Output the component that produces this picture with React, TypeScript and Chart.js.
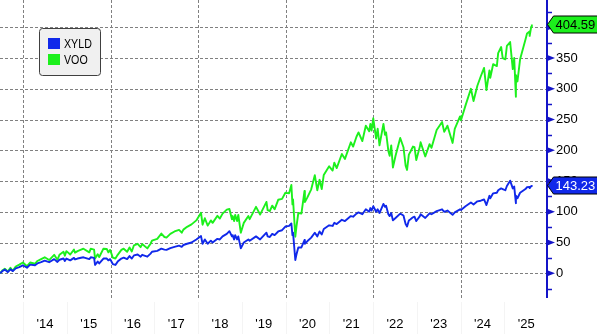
import React, { useEffect, useRef } from 'react';
import { Chart, registerables } from 'chart.js';

Chart.register(...registerables);

// ---- data (cumulative total return, %) ----
const DATES = [
  '2013-06-24','2013-07-15','2013-08-02','2013-08-27','2013-09-18','2013-10-08','2013-11-01','2013-12-01','2013-12-31',
  '2014-02-03','2014-03-01','2014-04-11','2014-05-01','2014-06-01','2014-07-01','2014-08-07','2014-09-18','2014-10-15',
  '2014-11-01','2014-12-05','2014-12-16','2014-12-29',
  '2015-01-30','2015-03-02','2015-03-11','2015-04-01','2015-05-20','2015-07-08','2015-07-20','2015-08-17','2015-08-25',
  '2015-09-16','2015-09-29','2015-11-03','2015-12-01','2015-12-14','2015-12-29',
  '2016-01-20','2016-02-11','2016-03-01','2016-04-01','2016-04-20','2016-05-19','2016-06-08','2016-06-27','2016-07-15',
  '2016-08-15','2016-09-09','2016-09-22','2016-11-04','2016-12-01','2016-12-13',
  '2017-01-26','2017-03-01','2017-03-27','2017-04-13','2017-05-15','2017-06-19','2017-07-27','2017-08-18','2017-09-01',
  '2017-10-02','2017-11-08','2017-12-18',
  '2018-01-26','2018-02-08','2018-02-27','2018-03-23','2018-04-18','2018-05-03','2018-06-12','2018-07-02','2018-07-25',
  '2018-08-29','2018-09-20','2018-10-11','2018-10-17','2018-10-29','2018-11-07','2018-11-23','2018-12-03','2018-12-24',
  '2019-01-18','2019-02-25','2019-03-08','2019-04-30','2019-06-03','2019-07-26','2019-08-05','2019-08-23','2019-09-12',
  '2019-10-02','2019-11-01','2019-12-03','2019-12-31',
  '2020-01-31','2020-02-19','2020-02-28','2020-03-04','2020-03-23','2020-04-01','2020-04-17','2020-05-13','2020-06-08',
  '2020-06-11','2020-07-01','2020-08-03','2020-09-02','2020-09-23','2020-10-12','2020-10-30','2020-11-16','2020-12-31',
  '2021-01-29','2021-02-12','2021-03-04','2021-04-16','2021-05-12','2021-06-30','2021-07-19','2021-08-16','2021-09-02',
  '2021-10-04','2021-11-02','2021-11-30','2021-12-10','2021-12-20',
  '2022-01-03','2022-01-27','2022-02-09','2022-02-24','2022-03-29','2022-04-11','2022-04-20','2022-05-09','2022-05-20',
  '2022-06-02','2022-06-16','2022-07-08','2022-08-16','2022-09-12','2022-09-30','2022-10-12','2022-10-27','2022-11-10',
  '2022-11-30','2022-12-13','2022-12-28',
  '2023-01-27','2023-02-02','2023-03-13','2023-04-18','2023-05-04','2023-06-16','2023-07-31','2023-08-18','2023-09-14',
  '2023-10-27','2023-11-14','2023-12-28',
  '2024-01-05','2024-02-12','2024-03-28','2024-04-19','2024-05-21','2024-06-18','2024-07-16','2024-08-05','2024-08-30',
  '2024-09-06','2024-09-30','2024-10-31','2024-11-11','2024-12-06','2024-12-19',
  '2025-01-10','2025-01-23','2025-02-19','2025-03-13','2025-03-25','2025-04-08','2025-04-09','2025-04-21','2025-05-13',
  '2025-06-27','2025-07-10','2025-07-31','2025-08-01','2025-08-14','2025-08-19',
];

const VOO = [
  0, 5, 7.5, 3, 9, 4, 11, 14, 17.5,
  11.5, 17.5, 15.5, 20, 23, 26, 21.5, 30, 22,
  30, 35, 28.5, 36,
  30.5, 38.5, 33.5, 36, 40, 34, 40, 38.5, 24,
  31, 26.5, 40, 39.5, 34, 38,
  25.5, 24, 30, 38, 40, 35, 42, 35.5, 45.5,
  48, 42.5, 47.5, 40.5, 48, 53,
  56, 64.5, 59, 58, 64, 68, 70.5, 66, 71,
  75.5, 79.5, 86,
  98.5, 79, 89.5, 77.5, 86, 82, 93.5, 89, 97,
  103.5, 104.5, 88, 93, 85, 95, 85, 95, 66,
  82, 93, 88, 108, 95.5, 116, 102.5, 101, 110,
  104, 119.5, 121, 131,
  130, 143.5, 112, 120, 59.5, 75, 98, 97, 134,
  116, 123, 136.5, 159.5, 135, 152, 137, 160, 174,
  167, 180, 171, 194, 186, 213, 206, 222, 229,
  215, 240, 231, 243, 232,
  252, 219, 235, 208, 243, 225, 229, 199, 191,
  208, 172, 191, 220, 205, 175, 168, 193, 198,
  206, 205, 184,
  206, 213, 190, 210, 204, 233, 246, 230, 240,
  212, 235, 255,
  249, 273, 300, 280, 305, 320, 334, 298, 330,
  318, 340, 337, 358, 368, 350,
  348, 370, 376, 332, 350, 287, 322, 312, 348,
  380, 390, 393, 386, 401, 404.59,
];

const XYLD = [
  0, 4, 6, 2, 6.5, 3.5, 8, 10, 13,
  9, 14, 13, 16, 18, 20.5, 18, 23, 18.5,
  22, 24, 20, 24,
  21, 25, 22.5, 24, 26, 23, 26, 25, 13.5,
  19, 16, 24, 24, 21, 23,
  15, 13.5, 19, 24, 25.5, 23, 28, 24, 29,
  30.5, 27, 30, 27, 32, 35,
  36.5, 40, 38.5, 38, 41, 43, 45, 43, 46,
  48, 50, 55,
  60.5, 48, 55, 48, 53, 50, 56, 55, 60,
  64, 68.5, 60, 62, 55, 62, 55, 60, 40.5,
  50, 55, 53, 60, 55, 66, 60, 59, 64,
  62, 68, 70, 76,
  77, 81, 62, 66, 21.6, 30, 42, 42, 54,
  48, 52, 58, 66, 60, 68, 63, 72, 78,
  77, 82, 80, 87, 85, 93, 92, 97, 99,
  96, 104, 100, 106, 102,
  109, 100, 104, 98, 112.7, 108, 110, 96, 93,
  98, 86, 90, 97, 94, 80, 76, 86, 88,
  91, 92, 85,
  93, 96, 90, 97.5, 96, 101, 104, 100, 102,
  95, 99, 104,
  103, 109, 115, 112, 117, 118, 120, 111, 126,
  122, 130, 131, 135, 138, 137,
  135, 142, 150.6, 138, 141, 114, 126, 122, 131,
  137, 140, 140.5, 138.5, 142, 143.23,
];

const SERIES_NAMES = ['XYLD', 'VOO'];
const YEAR_LABELS = [2014, 2015, 2016, 2017, 2018, 2019, 2020, 2021, 2022, 2023, 2024, 2025];
const GRID_YEARS = [2014, 2016, 2018, 2020, 2022, 2024];
const Y_TICKS = [0, 50, 100, 150, 200, 250, 300, 350, 400];
const Y_MINOR = [-25, 25, 75, 125, 175, 225, 275, 325, 375, 425];

const X_MIN = 2013.474;
const X_MAX = 2025.954;
const Y_MIN = -40.2;
const Y_MAX = 444.4;

const BLUE = '#1028ea';
const GREEN = '#1cf01c';
const AXIS_BLUE = '#1414c8';
const FONT = "'Liberation Sans', Arial, sans-serif";

function decimalYear(s: string): number {
  const [Y, M, D] = s.split('-').map(Number);
  const start = Date.UTC(Y, 0, 1);
  const end = Date.UTC(Y + 1, 0, 1);
  return Y + (Date.UTC(Y, M - 1, D) - start) / (end - start);
}

const decorPlugin = {
  id: 'decor',
  beforeDatasetsDraw(chart: any) {
    const { ctx, chartArea: a, scales } = chart;
    const x = scales.x;
    const y = scales.y;
    ctx.save();
    // very faint year separators in the label strip
    ctx.strokeStyle = '#f4f4f4';
    ctx.lineWidth = 1;
    for (const yr of YEAR_LABELS) {
      const px = Math.round(x.getPixelForValue(yr)) + 0.5;
      ctx.beginPath();
      ctx.moveTo(px, a.bottom + 4);
      ctx.lineTo(px, chart.height);
      ctx.stroke();
    }
    ctx.strokeStyle = '#808080';
    ctx.setLineDash([3, 2]);
    for (const v of Y_TICKS) {
      const py = Math.round(y.getPixelForValue(v)) + 0.5;
      ctx.beginPath();
      ctx.moveTo(a.left, py);
      ctx.lineTo(a.right, py);
      ctx.stroke();
    }
    for (const yr of GRID_YEARS) {
      const px = Math.round(x.getPixelForValue(yr)) + 0.5;
      ctx.beginPath();
      ctx.moveTo(px, a.top);
      ctx.lineTo(px, a.bottom);
      ctx.stroke();
    }
    ctx.restore();
  },
  afterDraw(chart: any) {
    const { ctx, chartArea: a, scales } = chart;
    const y = scales.y;
    const ax = a.right + 1;
    ctx.save();
    // axis line
    ctx.strokeStyle = AXIS_BLUE;
    ctx.lineWidth = 2;
    ctx.beginPath();
    ctx.moveTo(ax, a.top);
    ctx.lineTo(ax, a.bottom);
    ctx.stroke();
    // minor ticks
    ctx.lineWidth = 1.5;
    for (const v of Y_MINOR) {
      const py = Math.round(y.getPixelForValue(v)) + 0.5;
      ctx.beginPath();
      ctx.moveTo(ax, py);
      ctx.lineTo(ax + 5, py);
      ctx.stroke();
    }
    // major triangles
    ctx.fillStyle = AXIS_BLUE;
    for (const v of Y_TICKS) {
      const py = y.getPixelForValue(v);
      ctx.beginPath();
      ctx.moveTo(ax - 1, py - 3.5);
      ctx.lineTo(ax + 8, py);
      ctx.lineTo(ax - 1, py + 3.5);
      ctx.closePath();
      ctx.fill();
    }
    // last value tags
    const tag = (value: number, fill: string, textColor: string) => {
      const py = Math.round(y.getPixelForValue(value)) + 0.5;
      const h = 17;
      const tip = a.right + 1.5;
      const x1 = tip + 6;
      const x2 = chart.width + 2;
      ctx.beginPath();
      ctx.moveTo(tip, py);
      ctx.lineTo(x1, py - h / 2);
      ctx.lineTo(x2, py - h / 2);
      ctx.lineTo(x2, py + h / 2);
      ctx.lineTo(x1, py + h / 2);
      ctx.closePath();
      ctx.fillStyle = fill;
      ctx.fill();
      ctx.strokeStyle = '#000';
      ctx.lineWidth = 1;
      ctx.stroke();
      ctx.fillStyle = textColor;
      ctx.font = `13px ${FONT}`;
      ctx.textAlign = 'left';
      ctx.textBaseline = 'middle';
      ctx.fillText(value.toFixed(2), x1 + 2, py + 0.5);
    };
    const ds = chart.data.datasets;
    tag(VOO[VOO.length - 1], ds[1].borderColor, '#000');
    tag(XYLD[XYLD.length - 1], ds[0].borderColor, '#fff');

    // legend box
    const lx = 39.5, ly = 28.5, lw = 61, lh = 47, r = 3;
    ctx.beginPath();
    ctx.moveTo(lx + r, ly);
    ctx.lineTo(lx + lw - r, ly);
    ctx.quadraticCurveTo(lx + lw, ly, lx + lw, ly + r);
    ctx.lineTo(lx + lw, ly + lh - r);
    ctx.quadraticCurveTo(lx + lw, ly + lh, lx + lw - r, ly + lh);
    ctx.lineTo(lx + r, ly + lh);
    ctx.quadraticCurveTo(lx, ly + lh, lx, ly + lh - r);
    ctx.lineTo(lx, ly + r);
    ctx.quadraticCurveTo(lx, ly, lx + r, ly);
    ctx.closePath();
    ctx.fillStyle = '#f0f0f0';
    ctx.fill();
    ctx.strokeStyle = '#404040';
    ctx.lineWidth = 1;
    ctx.stroke();
    ctx.font = `13px ${FONT}`;
    ctx.textAlign = 'left';
    ctx.textBaseline = 'middle';
    ds.forEach((d: any, i: number) => {
      const yy = 38 + i * 16;
      ctx.fillStyle = d.borderColor;
      ctx.fillRect(48, yy, 12, 11);
      ctx.fillStyle = '#000';
      const w = ctx.measureText(d.label).width;
      ctx.fillText(d.label, 64, yy + 6, w * 0.82);
    });
    ctx.restore();
  },
};

export default function App() {
  const ref = useRef<HTMLCanvasElement | null>(null);
  useEffect(() => {
    if (!ref.current) return;
    const xs = DATES.map(decimalYear);
    const chart = new Chart(ref.current, {
      type: 'line',
      data: {
        datasets: [
          {
            label: SERIES_NAMES[0],
            data: xs.map((x, i) => ({ x, y: XYLD[i] })),
            borderColor: BLUE,
            backgroundColor: BLUE,
          },
          {
            label: SERIES_NAMES[1],
            data: xs.map((x, i) => ({ x, y: VOO[i] })),
            borderColor: GREEN,
            backgroundColor: GREEN,
          },
        ],
      },
      options: {
        animation: false,
        responsive: false,
        events: [],
        layout: { padding: 0 },
        elements: {
          point: { radius: 0 },
          line: { tension: 0, borderWidth: 1.9, borderJoinStyle: 'round' },
        },
        plugins: { legend: { display: false }, tooltip: { enabled: false } },
        scales: {
          x: {
            type: 'linear',
            min: X_MIN,
            max: X_MAX,
            grid: { display: false, drawTicks: false },
            border: { display: false },
            afterBuildTicks: (s: any) => {
              s.ticks = YEAR_LABELS.map((v) => ({ value: v + 0.5 }));
            },
            ticks: {
              autoSkip: false,
              maxRotation: 0,
              minRotation: 0,
              padding: 19,
              color: '#000',
              font: { family: FONT, size: 13 },
              callback: (v: any) => "'" + String(Math.floor(Number(v)) % 100).padStart(2, '0'),
            },
            afterFit: (s: any) => {
              s.height = 36;
              s.paddingLeft = 0;
              s.paddingRight = 0;
            },
          },
          y: {
            type: 'linear',
            position: 'right',
            min: Y_MIN,
            max: Y_MAX,
            grid: { display: false, drawTicks: false },
            border: { display: false },
            afterBuildTicks: (s: any) => {
              s.ticks = Y_TICKS.map((v) => ({ value: v }));
            },
            ticks: {
              padding: 10,
              color: '#000',
              font: { family: FONT, size: 13 },
              callback: (v: any) => String(v),
            },
            afterFit: (s: any) => {
              s.width = 51;
              s.paddingTop = 0;
              s.paddingBottom = 0;
            },
          },
        },
      },
      plugins: [decorPlugin],
    } as any);
    return () => chart.destroy();
  }, []);
  return (
    <div style={{ position: 'fixed', left: 0, top: 0, width: 597, height: 334, background: '#fff' }}>
      <canvas ref={ref} width={597} height={334} style={{ display: 'block' }} />
    </div>
  );
}
